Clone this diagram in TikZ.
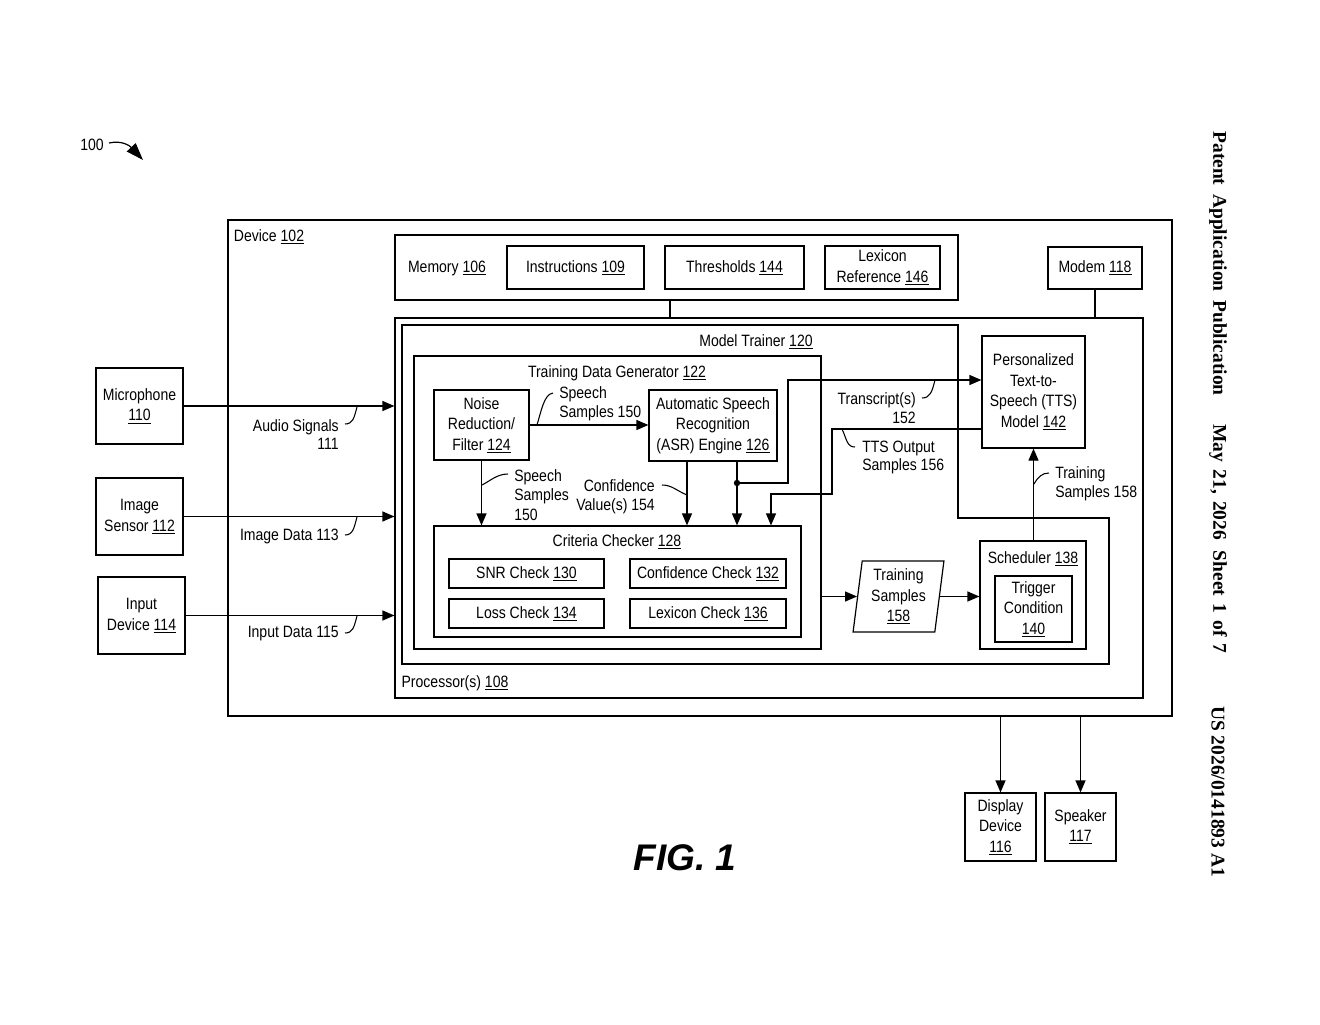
\documentclass[tikz,border=0pt]{standalone}
\usepackage{fontspec}
\usepackage{tikz}
\usetikzlibrary{arrows.meta,shapes.geometric}
\setmainfont{Liberation Sans}[FakeStretch=0.855]
\newfontfamily\figfont{Liberation Sans}
\newfontfamily\sidefont{Liberation Serif}
\newcommand{\refnum}[1]{\underline{#1}}
\tikzset{
  every node/.style={align=center,inner sep=0pt,font=\fontsize{12.3}{15.4}\selectfont},
  box/.style={draw,line width=0.9pt},
  sz/.style 2 args={minimum width=#1*0.75pt,minimum height=#2*0.75pt},
  arr/.style={line width=0.9pt,-{Triangle[length=9pt,width=7.5pt]}},
  link/.style={line width=0.9pt},
  lead/.style={line width=0.8pt},
  sidetext/.style={rotate=-90,font=\fontsize{14.6}{16}\sidefont\bfseries}
}

\begin{document}
\begin{tikzpicture}[x=0.75pt,y=-0.75pt]
\useasboundingbox (0,0) rectangle (1320,1024);

% Outer device and the blocks around it
\node[box,sz={944}{496}] (device) at (700,468) {};
\node at (269,237) {Device \refnum{102}};
\node[box,sz={87}{76}] (mic) at (139.5,406) {Microphone\\\refnum{110}};
\node[box,sz={87}{77}] (imgsens) at (139.5,516.5) {Image\\Sensor \refnum{112}};
\node[box,sz={87}{77}] (input) at (141.5,615.5) {Input\\Device \refnum{114}};
\node[box,sz={71}{68}] (disp) at (1000.5,827) {Display\\Device\\\refnum{116}};
\node[box,sz={71}{68}] (spk) at (1080.5,827) {Speaker\\\refnum{117}};

% Memory row
\node[box,sz={563}{65}] (memory) at (676.5,267.5) {};
\node at (447,268) {Memory \refnum{106}};
\node[box,sz={137}{43}] (instr) at (575.5,267.5) {Instructions \refnum{109}};
\node[box,sz={139}{43}] (thresh) at (734.5,267.5) {Thresholds \refnum{144}};
\node[box,sz={115}{43}] (lexref) at (882.5,267.5) {Lexicon\\Reference \refnum{146}};
\node[box,sz={94}{42}] (modem) at (1095,268) {Modem \refnum{118}};
\coordinate (memlink) at (670,300);

% Processor and model trainer
\node[box,sz={748}{380}] (proc) at (769,508) {};
\node at (455,683) {Processor(s) \refnum{108}};
\draw[link] (402,325) -- (958,325) -- (958,518) -- (1109,518) -- (1109,664) -- (402,664) -- cycle;
\node at (756,342) {Model Trainer \refnum{120}};

% Training data generator
\node[box,sz={407}{293}] (tdg) at (617.5,502.5) {};
\node at (617,373) {Training Data Generator \refnum{122}};
\node[box,sz={95}{70}] (noise) at (481.5,425) {Noise\\Reduction/\\Filter \refnum{124}};
\node[box,sz={128}{71}] (asr) at (713,425.5) {Automatic Speech\\Recognition\\(ASR) Engine \refnum{126}};

% Criteria checker
\node[box,sz={367}{111}] (crit) at (617.5,581.5) {};
\node at (617,542) {Criteria Checker \refnum{128}};
\node[box,sz={155}{29}] (snr) at (526.5,573.5) {SNR Check \refnum{130}};
\node[box,sz={156}{29}] (confchk) at (708,573.5) {Confidence Check \refnum{132}};
\node[box,sz={155}{29}] (losschk) at (526.5,613.5) {Loss Check \refnum{134}};
\node[box,sz={156}{29}] (lexchk) at (708,613.5) {Lexicon Check \refnum{136}};

% Right hand side
\node[box,sz={103}{112}] (tts) at (1033.5,392) {Personalized\\Text-to-\\Speech (TTS)\\Model \refnum{142}};
\node[box,sz={106}{108}] (sched) at (1033,595) {};
\node at (1033,559) {Scheduler \refnum{138}};
\node[box,sz={77}{66}] (trig) at (1033.5,609) {Trigger\\Condition\\\refnum{140}};
\node[box,trapezium,trapezium left angle=83,trapezium right angle=97,trapezium stretches=true,sz={91}{71}] (tsamp) at (898.5,596.5) {Training\\Samples\\\refnum{158}};

% Connectors
\draw[arr] (mic.east) -- (mic.east -| proc.west);
\draw[arr] (imgsens.east) -- (imgsens.east -| proc.west);
\draw[arr] (input.east) -- (input.east -| proc.west);
\draw[link] (memlink |- memory.south) -- (memlink |- proc.north);
\draw[link] (modem.south) -- (modem.south |- proc.north);
\draw[arr] (disp.north |- device.south) -- (disp.north);
\draw[arr] (spk.north |- device.south) -- (spk.north);
\draw[arr] (noise.east) -- (noise.east -| asr.west);
\draw[arr] (noise.south) -- (noise.south |- crit.north);
\coordinate (conf) at (687,461);
\coordinate (tap) at (737,483);
\draw[arr] (conf) -- (conf |- crit.north);
\draw[arr] (tap |- asr.south) -- (tap |- crit.north);
\fill (tap) circle (3.2);
\draw[arr] (tap) -- (788,483) -- (788,380) -- (tts.west |- 788,380);
\coordinate (ttsout) at (982,429);
\coordinate (ttsdrop) at (771,494);
\draw[arr] (ttsout) -- (832,429) -- (832,494) -- (ttsdrop) -- (ttsdrop |- crit.north);
\draw[arr] (tdg.east |- tsamp.west) -- (tsamp.west);
\draw[arr] (tsamp.east) -- (tsamp.east -| sched.west);
\draw[arr] (tts.south |- sched.north) -- (tts.south);

% Signal labels
\node[anchor=west,align=left] (ss1) at (559,404) {Speech\\[-1.5pt]Samples 150};
\node[anchor=west,align=left] (ss2) at (514,495) {Speech\\[-1pt]Samples\\[-1pt]150};
\node[align=right,anchor=east] (cv) at (655,497) {Confidence\\[-1.5pt]Value(s) 154};
\node[align=right,anchor=east] (tr) at (916,408) {Transcript(s)\\[-1.5pt]152};
\node[align=left,anchor=west] (to) at (862,457.5) {TTS Output\\[-1.5pt]Samples 156};
\node[align=left,anchor=west] (ts2) at (1055,483.5) {Training\\[-1.5pt]Samples 158};
\node[align=right,anchor=east] (as) at (339,434.5) {Audio Signals\\[-1.5pt]111};
\node[anchor=east] (id) at (339,536) {Image Data 113};
\node[anchor=east] (ind) at (339,634) {Input Data 115};

% Lead lines
\draw[lead] (537,425) .. controls (541,412) and (544,394) .. (553,393);
\draw[lead] (482,485) .. controls (490,481) and (497,474) .. (508,474);
\draw[lead] (687,495) .. controls (677,491) and (672,485) .. (662,485);
\draw[lead] (935,380) .. controls (932,392) and (930,398) .. (922,398);
\draw[lead] (842,429) .. controls (847,440) and (847,447) .. (855,447);
\draw[lead] (1034,484) .. controls (1038,477) and (1042,473) .. (1049,473);
\draw[lead] (357,407) .. controls (354,418) and (353,424) .. (345,424);
\draw[lead] (357,517) .. controls (354,528) and (353,535) .. (345,535);
\draw[lead] (357,616) .. controls (354,627) and (353,633) .. (345,633);

% Figure number and page header
\node (hundred) at (92,145) {100};
\draw[line width=0.9pt,-{Triangle[length=13pt,width=9pt]}] (109,143) .. controls (122,140) and (130,146) .. (143,160);
\node[font=\fontsize{27.8}{30}\figfont\bfseries\itshape] (fig) at (685,858) {FIG. 1};
\node[sidetext] (hdr1) at (1218,263.5) {\spaceskip=6.6pt Patent Application Publication};
\node[sidetext] (hdr2) at (1218,539) {\spaceskip=5.4pt May 21, 2026\hspace{8pt}Sheet 1 of 7};
\node[sidetext] (hdr3) at (1218,791.5) {US 2026/0141893 A1};
\end{tikzpicture}
\end{document}
